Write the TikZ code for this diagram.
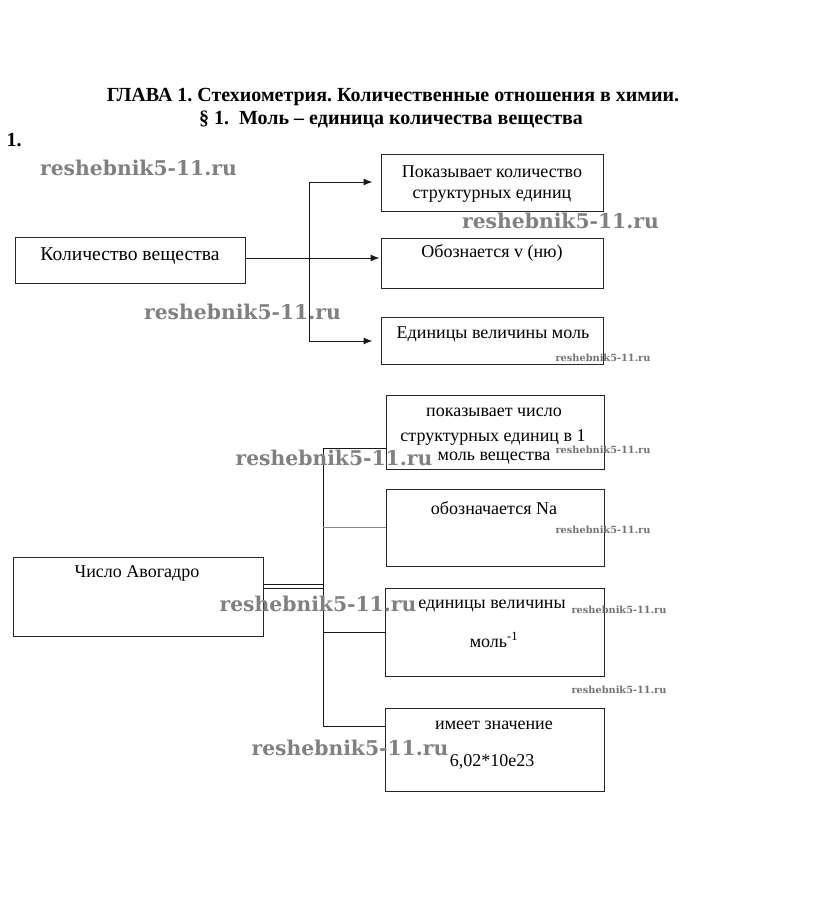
\documentclass[tikz,border=0pt]{standalone}
\usepackage{fontspec}
\setmainfont{Liberation Serif}
\newfontfamily\wmfont{DejaVu Serif}
\usetikzlibrary{arrows.meta}
\frenchspacing
\tikzset{
  box/.style={draw=black!85, line width=1pt, inner sep=0pt},
  txt/.style={inner sep=0pt, font=\fontsize{18}{21}\selectfont},
  txtbig/.style={inner sep=0pt, font=\fontsize{19.6}{22}\selectfont},
  ttl/.style={inner sep=0pt, font=\fontsize{20}{23}\selectfont\bfseries},
  conn/.style={line width=1pt, draw=black!90},
  arr/.style={conn, -{Latex[length=9pt,width=7pt]}},
  wmbig/.style={inner sep=0pt, text=black!50, font=\wmfont\bfseries\fontsize{20.3}{23}\selectfont},
  wmsmall/.style={inner sep=0pt, text=black!55, font=\wmfont\bfseries\fontsize{9.8}{11}\selectfont}
}
\begin{document}
\begin{tikzpicture}[x=1pt,y=-1pt]
\useasboundingbox[fill=white] (0,0) rectangle (812,924);

% title
\node[ttl] (t1) at (393,97) {ГЛАВА 1. Стехиометрия. Количественные отношения в химии.};
\node[ttl] (t2) at (391,119) {§ 1.\ \ Моль – единица количества вещества};
\node[ttl] (num) at (14,140) {1.};

% upper scheme boxes
\node[box, minimum width=230, minimum height=46] (A) at (130,260) {};
\node[box, minimum width=222, minimum height=57] (B1) at (492,182.5) {};
\node[box, minimum width=222, minimum height=50] (B2) at (492,263) {};
\node[box, minimum width=222, minimum height=47] (B3) at (492,340.5) {};

\node[txtbig] (Atx) at (130,256) {Количество вещества};
\node[txt] (B1a) at (492,172) {Показывает количество};
\node[txt] (B1b) at (492,196) {структурных единиц};
\node[txt] (B2t) at (492,253) {Обознается v (ню)};
\node[txt] (B3t) at (493,334) {Единицы величины моль};

% upper connectors
\coordinate (Kt) at (309,182);
\coordinate (Kb) at (309,341);
\draw[arr, shorten >=1pt] ([yshift=2pt]A.east) -- ([yshift=2pt]A.east -| B2.west);
\draw[conn] (Kt) -- (Kb);
\draw[arr, shorten >=8pt] (Kt) -- (Kt -| B1.west);
\draw[arr, shorten >=8pt] (Kb) -- (Kb -| B3.west);

% lower scheme boxes
\node[box, minimum width=250, minimum height=79] (C) at (138,596.5) {};
\node[box, minimum width=218, minimum height=74] (D1) at (495,432) {};
\node[box, minimum width=218, minimum height=77] (D2) at (495,527.5) {};
\node[box, minimum width=219, minimum height=88] (D3) at (494.5,632) {};
\node[box, minimum width=219, minimum height=83] (D4) at (494.5,749.5) {};

\node[txt] (Ctx) at (137,573) {Число Авогадро};
\node[txt] (D1a) at (494,412) {показывает число};
\node[txt] (D1b) at (493,437) {структурных единиц в 1};
\node[txt] (D1c) at (494,458) {моль вещества};
\node[txt] (D2t) at (494,508) {обозначается Na};
\node[txt] (D3a) at (492,606) {единицы величины};
\node[txt] (D3b) at (494,640) {моль\textsuperscript{-1}};
\node[txt] (D4a) at (494,725) {имеет значение};
\node[txt] (D4b) at (492,762) {6,02*10e23};

% lower connectors
\coordinate (Jt) at (323,448);
\coordinate (Jb) at (323,726);
\draw[conn] ([yshift=12.5pt]C.east) -- ([yshift=12.5pt]C.east -| Jt);
\draw[conn] ([yshift=8.5pt]C.east) -- ([yshift=8.5pt]C.east -| Jt);
\draw[conn] (Jt) -- (Jb);
\draw[conn] (Jt) -- (Jt -| D1.west);
\draw[conn, draw=black!45] (D2.west -| Jt) -- (D2.west);
\draw[conn] (D3.west -| Jt) -- (D3.west);
\draw[conn] (Jb) -- (Jb -| D4.west);

% watermarks
\node[wmbig] (w1) at (138.5,168) {reshebnik5-11.ru};
\node[wmbig] (w2) at (560.5,221) {reshebnik5-11.ru};
\node[wmbig] (w3) at (242.5,312) {reshebnik5-11.ru};
\node[wmbig] (w4) at (334,458) {reshebnik5-11.ru};
\node[wmbig] (w5) at (318,604) {reshebnik5-11.ru};
\node[wmbig] (w6) at (350,748) {reshebnik5-11.ru};
\node[wmsmall] (s1) at (603,358) {reshebnik5-11.ru};
\node[wmsmall] (s2) at (603,450) {reshebnik5-11.ru};
\node[wmsmall] (s3) at (603,530) {reshebnik5-11.ru};
\node[wmsmall] (s4) at (619,610) {reshebnik5-11.ru};
\node[wmsmall] (s5) at (619,690) {reshebnik5-11.ru};
\end{tikzpicture}
\end{document}
